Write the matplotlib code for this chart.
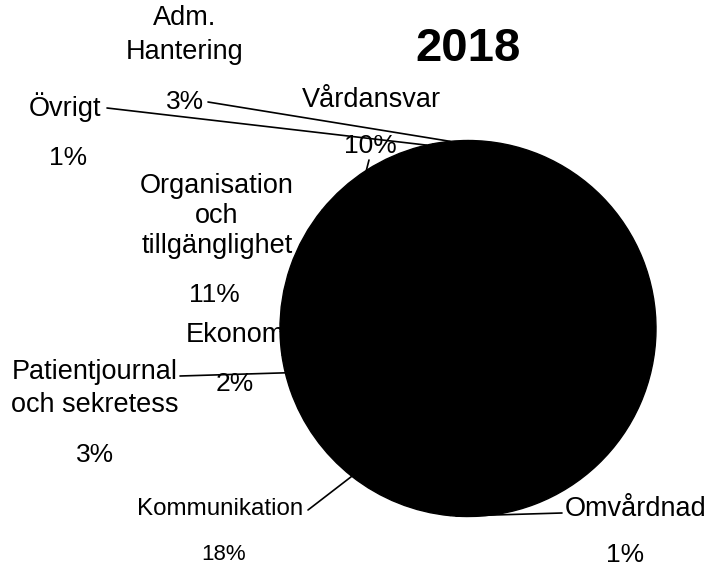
import numpy as np
import matplotlib.pyplot as plt

plt.rcParams['font.family'] = ['Liberation Sans', 'DejaVu Sans']

# data (clockwise from 12 o'clock); the big slice has no visible label
categories = ['', 'Omvårdnad', 'Kommunikation', 'Patientjournal\noch sekretess', 'Ekonomi',
              'Organisation\noch\ntillgänglighet', 'Vårdansvar', 'Övrigt', 'Adm.\nHantering']
shares = [50, 1, 18, 3, 2, 11, 10, 1, 3]
pct_labels = ['', '1%', '18%', '3%', '2%', '11%', '10%', '1%', '3%']
title = '2018'

W, H = 708, 569

# label layout in image pixels (top-left origin): first name line, line step, pct position
name_pos = [None, (636, 509), (220, 509), (95, 372), (238, 335),
            (217, 186), (371, 100), (65, 107), (185, 18)]
name_step = [0, 0, 0, 33, 0, 30, 0, 0, 34]
pct_pos = [None, (625, 555), (224, 555), (95, 455), (235, 384),
           (214, 295), (370, 146), (68, 158), (185, 102)]
font_sizes = [19.5, 19.5, 17.4, 19.5, 19.5, 19.5, 19.5, 19.5, 19.5]
pct_sizes = [19, 19, 16, 19, 19, 19, 19, 19, 19]
# leader line start points (pixels), None = no leader
leader_from = [None, (562, 513), (308, 510), (180, 376), None,
               None, (369, 160), (107, 108), (208, 102)]

fig = plt.figure(figsize=(W / 100, H / 100), dpi=100)
cx, cy, r = 468, 328.5, 188
ax = fig.add_axes([(cx - r) / W, (H - cy - r) / H, 2 * r / W, 2 * r / H])

wedges, _ = ax.pie(shares, startangle=90, counterclock=False,
                   colors=['black'] * len(shares), radius=1,
                   wedgeprops=dict(edgecolor='black', linewidth=1.0))
ax.set_xlim(-1, 1)
ax.set_ylim(-1, 1)
ax.axis('off')


def fig_xy(p):
    return p[0] / W, 1 - p[1] / H


for i, w in enumerate(wedges):
    if name_pos[i] is None:
        continue
    fs = font_sizes[i]
    # Ekonomi sits partly behind the pie
    z = 0.5 if categories[i] == 'Ekonomi' else 3
    x0, y0 = name_pos[i]
    for k, line in enumerate(categories[i].split('\n')):
        ax.text(*fig_xy((x0, y0 + k * name_step[i])), line, transform=fig.transFigure,
                ha='center', va='center', fontsize=fs, zorder=z)
    ax.text(*fig_xy(pct_pos[i]), pct_labels[i], transform=fig.transFigure,
            ha='center', va='center', fontsize=pct_sizes[i], zorder=3)
    if leader_from[i] is not None:
        mid = np.deg2rad((w.theta1 + w.theta2) / 2)
        ax.annotate('', xy=(np.cos(mid), np.sin(mid)), xycoords='data',
                    xytext=(leader_from[i][0], H - leader_from[i][1]), textcoords='figure pixels',
                    arrowprops=dict(arrowstyle='-', color='black', lw=1.2,
                                    shrinkA=0, shrinkB=0))

fig.text(*fig_xy((468, 49)), title, ha='center', va='center',
         fontsize=34, fontweight='bold')

fig.savefig('out.png', dpi=100, facecolor='white')
